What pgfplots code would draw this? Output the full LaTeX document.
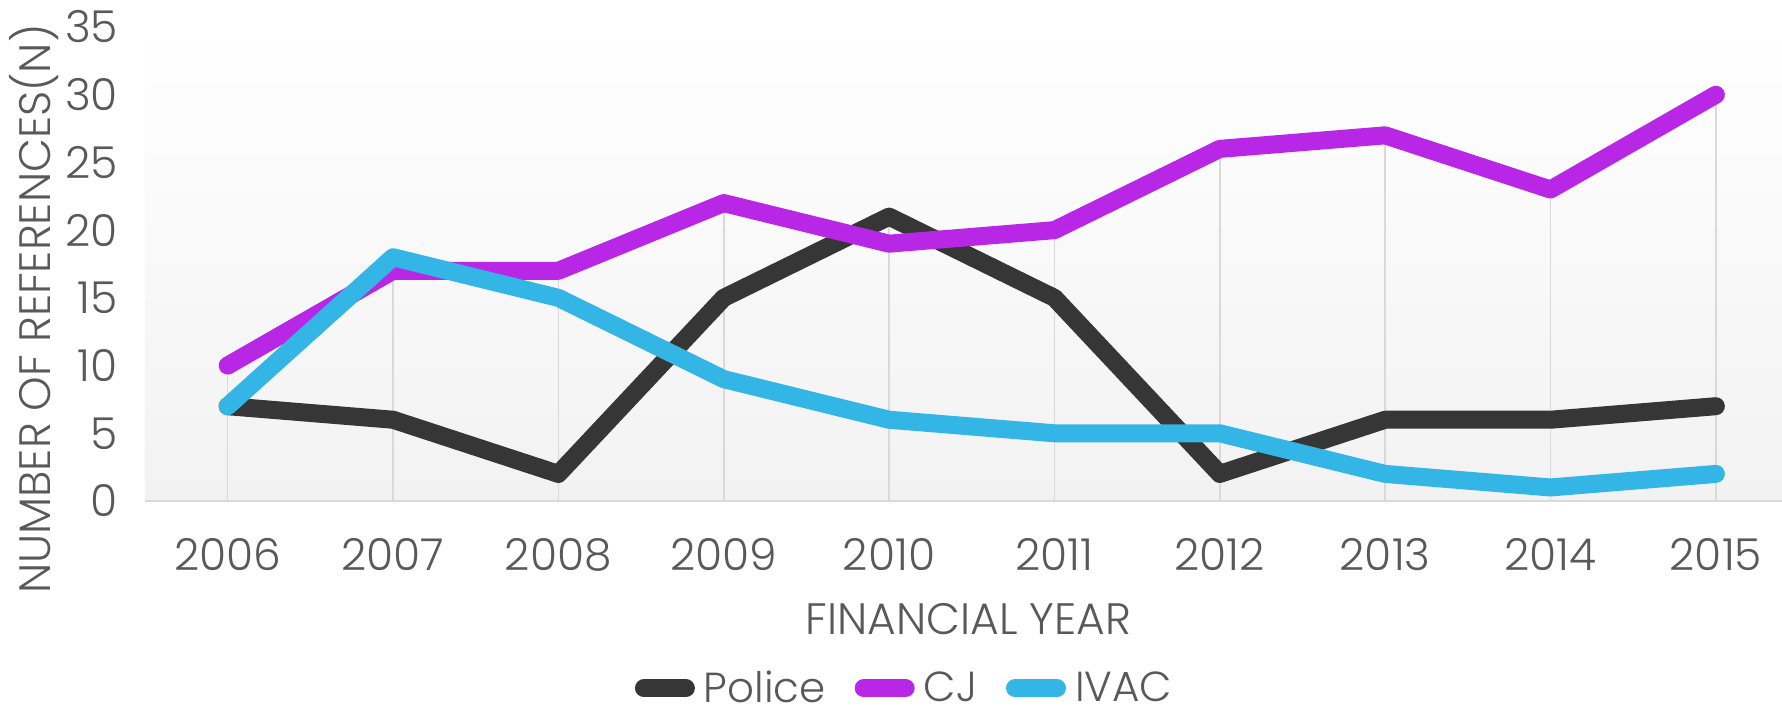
\documentclass[border=0pt]{standalone}
\usepackage{fontspec}
\setmainfont{Poppins Light}
\usepackage{pgfplots}
\pgfplotsset{compat=1.18}
\definecolor{police}{HTML}{363636}
\definecolor{cj}{HTML}{B827E6}
\definecolor{ivac}{HTML}{33B5E5}
\definecolor{txt}{HTML}{595959}
\definecolor{grid}{HTML}{D9D9D9}
\definecolor{bgbot}{HTML}{F2F2F2}
\begin{document}
\begin{tikzpicture}
\begin{axis}[
  at={(72.5pt,108.5pt)}, anchor=south west,
  scale only axis, width=818.5pt, height=237pt,
  xmin=-0.5, xmax=9.4, ymin=0, ymax=35,
  xtick={0,...,9},
  xticklabels={2006,2007,2008,2009,2010,2011,2012,2013,2014,2015},
  ytick={0,5,...,35},
  major tick length=0pt,
  axis line style={draw=none},
  axis x line*=bottom, axis y line*=left,
  axis background/.style={shade, top color=white, bottom color=bgbot},
  /pgf/number format/assume math mode=true,
  tick label style={font=\fontsize{22}{26}\selectfont, text=txt},
  xticklabel style={yshift=-15pt},
  yticklabel style={xshift=-10pt},
  xlabel={FINANCIAL YEAR},
  ylabel={NUMBER OF REFERENCES(N)},
  label style={font=\fontsize{22}{26}\selectfont, text=txt},
  xlabel style={anchor=center, at={(axis description cs:0.503,-0.249)}},
  ylabel style={anchor=center, rotate=0, at={(axis description cs:-0.068,0.405)}},
  legend columns=3,
  legend style={draw=none, fill=none, at={(axis description cs:0.4606,-0.395)}, anchor=center,
    font=\fontsize{21}{25}\selectfont, text=txt,
    nodes={inner xsep=0pt, inner ysep=2pt},
    /tikz/every odd column/.append style={column sep=0pt},
    /tikz/every even column/.append style={column sep=10pt}},
  legend image code/.code={\path (0pt,0pt) (30pt,0pt); \draw[#1, line cap=round] (4.5pt,0pt) -- (25.5pt,0pt);},
  clip=false,
]
\addplot[ycomb, draw=grid, line width=0.8pt, forget plot] coordinates {
(0,10) (1,18) (2,17) (3,22) (4,21) (5,20) (6,26) (7,27) (8,23) (9,30)};
\draw[grid, line width=1pt] (axis cs:-0.5,0) -- (axis cs:9.4,0);
\addplot[police, line width=9pt, line join=round, line cap=round] coordinates {
(0,7) (1,6) (2,2) (3,15) (4,21) (5,15) (6,2) (7,6) (8,6) (9,7)};
\addlegendentry{Police}
\addplot[cj, line width=9pt, line join=round, line cap=round] coordinates {
(0,10) (1,17) (2,17) (3,22) (4,19) (5,20) (6,26) (7,27) (8,23) (9,30)};
\addlegendentry{CJ}
\addplot[ivac, line width=9pt, line join=round, line cap=round] coordinates {
(0,7) (1,18) (2,15) (3,9) (4,6) (5,5) (6,5) (7,2) (8,1) (9,2)};
\addlegendentry{IVAC}
\end{axis}
\pgfresetboundingbox
\path[use as bounding box] (0,0) rectangle (891pt,359pt);
\end{tikzpicture}
\end{document}
